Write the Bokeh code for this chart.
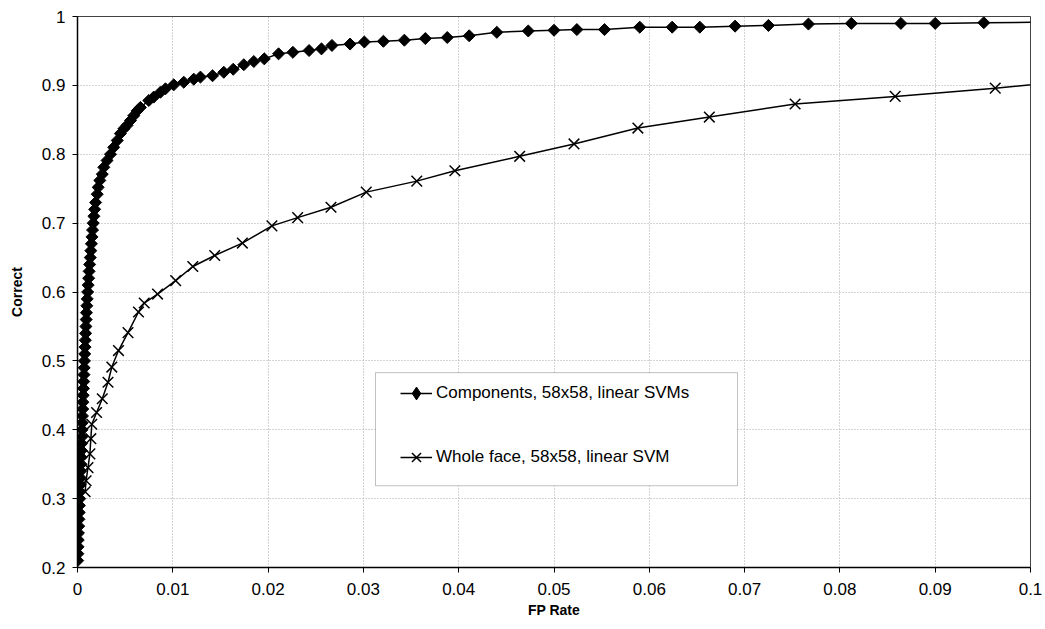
import numpy as np
from bokeh.plotting import figure
from bokeh.models import (Range1d, FixedTicker, Legend, LegendItem, BoxAnnotation,
                          ColumnDataSource)
from bokeh.embed import file_html
from bokeh.resources import INLINE

# ---------------- data ----------------
comp_x = [0.00002, 0.00004, 0.00006, 0.00008, 0.0001, 0.00013, 0.00015, 0.00018, 0.0002, 0.00023,
          0.00026, 0.00028, 0.00031, 0.00033, 0.00036, 0.00038, 0.00041, 0.00043, 0.00046, 0.00048,
          0.0005, 0.00052, 0.00055, 0.00057, 0.0006, 0.00062, 0.00065, 0.00068, 0.0007, 0.00073,
          0.00076, 0.00079, 0.00082, 0.00085, 0.00088, 0.00091, 0.00094, 0.00098, 0.00102, 0.00107,
          0.00112, 0.00117, 0.00122, 0.00128, 0.00134, 0.0014, 0.00146, 0.00152, 0.00158, 0.00165,
          0.00172, 0.0018, 0.0019, 0.00207, 0.00217, 0.00234, 0.0026, 0.00276, 0.0031, 0.00346,
          0.0038, 0.00417, 0.0045, 0.00486, 0.0052, 0.00556, 0.0059, 0.00626, 0.0066, 0.00748,
          0.0080, 0.0087, 0.00923, 0.0101, 0.01115, 0.0122, 0.0129, 0.01417, 0.01535, 0.01634,
          0.01745, 0.0185, 0.0196, 0.0211, 0.0226, 0.0243, 0.0256, 0.0267, 0.0286, 0.0301,
          0.0321, 0.0343, 0.0365, 0.0388, 0.0411, 0.0440, 0.0473, 0.0500, 0.0524, 0.0553,
          0.0590, 0.0624, 0.0653, 0.0690, 0.0725, 0.0767, 0.0812, 0.0864, 0.0900, 0.0951,
          0.1045]
comp_y = [0.21, 0.22, 0.23, 0.24, 0.25, 0.26, 0.27, 0.28, 0.29, 0.30,
          0.31, 0.32, 0.33, 0.34, 0.35, 0.36, 0.37, 0.38, 0.39, 0.40,
          0.41, 0.42, 0.43, 0.44, 0.45, 0.46, 0.47, 0.48, 0.49, 0.50,
          0.51, 0.52, 0.53, 0.54, 0.55, 0.56, 0.57, 0.58, 0.59, 0.60,
          0.61, 0.62, 0.63, 0.64, 0.65, 0.66, 0.67, 0.68, 0.69, 0.70,
          0.71, 0.72, 0.73, 0.742, 0.752, 0.762, 0.771, 0.781, 0.791, 0.800,
          0.810, 0.820, 0.830, 0.837, 0.842, 0.849, 0.856, 0.863, 0.868, 0.878,
          0.883, 0.890, 0.895, 0.9008, 0.9046, 0.909, 0.912, 0.914, 0.919, 0.9234,
          0.930, 0.9346, 0.9385, 0.9458, 0.948, 0.9506, 0.953, 0.958, 0.960, 0.963,
          0.964, 0.9656, 0.968, 0.9695, 0.972, 0.977, 0.979, 0.980, 0.981, 0.981,
          0.9845, 0.9845, 0.9845, 0.986, 0.987, 0.989, 0.990, 0.990, 0.990, 0.991,
          0.992]

whole_x = [0.0008, 0.0009, 0.0011, 0.0013, 0.0014, 0.0015, 0.0020, 0.0026, 0.0032, 0.0036,
           0.0043, 0.0053, 0.0064, 0.0070, 0.0084, 0.0103, 0.0121, 0.0144, 0.0173, 0.0204,
           0.0231, 0.0266, 0.0303, 0.0356, 0.0396, 0.0464, 0.0521, 0.0588, 0.0663, 0.0753,
           0.0858, 0.0963, 0.1050]
whole_y = [0.310, 0.326, 0.345, 0.365, 0.387, 0.408, 0.425, 0.445, 0.469, 0.491,
           0.515, 0.541, 0.571, 0.584, 0.597, 0.6165, 0.637, 0.653, 0.671, 0.696,
           0.708, 0.723, 0.745, 0.761, 0.776, 0.797, 0.815, 0.838, 0.854, 0.873,
           0.884, 0.896, 0.907]

series_names = ["Components, 58x58, linear SVMs", "Whole face, 58x58, linear SVM"]
x_ticks = [0, 0.01, 0.02, 0.03, 0.04, 0.05, 0.06, 0.07, 0.08, 0.09, 0.1]
x_tick_labels = ["0", "0.01", "0.02", "0.03", "0.04", "0.05", "0.06", "0.07", "0.08", "0.09", "0.1"]
y_ticks = [0.2, 0.3, 0.4, 0.5, 0.6, 0.7, 0.8, 0.9, 1.0]
y_tick_labels = ["0.2", "0.3", "0.4", "0.5", "0.6", "0.7", "0.8", "0.9", "1"]

FONT = "Liberation Sans"

p = figure(width=1043, height=626, output_backend="svg", toolbar_location=None,
           x_range=Range1d(0, 0.1), y_range=Range1d(0.2, 1.0),
           min_border_left=77, min_border_right=13, min_border_top=16, min_border_bottom=59)
p.background_fill_color = "white"
p.border_fill_color = "white"
p.outline_line_color = "#444444"
p.outline_line_width = 1

for ax in (p.xaxis[0], p.yaxis[0]):
    ax.axis_line_color = "black"
    ax.axis_line_width = 1.5
    ax.major_tick_in = 0
    ax.major_tick_out = 5
    ax.major_tick_line_color = "black"
    ax.minor_tick_line_color = None
    ax.major_label_text_font = FONT
    ax.major_label_text_font_size = "17px"
    ax.major_label_text_color = "black"
    ax.axis_label_text_font = FONT
    ax.axis_label_text_font_style = "bold"
    ax.axis_label_text_font_size = "14px"
    ax.axis_label_text_color = "black"

p.xaxis[0].ticker = FixedTicker(ticks=x_ticks)
p.xaxis[0].major_label_overrides = {t: l for t, l in zip(x_ticks, x_tick_labels)}
p.yaxis[0].ticker = FixedTicker(ticks=y_ticks)
p.yaxis[0].major_label_overrides = {t: l for t, l in zip(y_ticks, y_tick_labels)}
p.xaxis[0].major_label_standoff = 10
p.yaxis[0].major_label_standoff = 7
p.xaxis[0].axis_label = "FP Rate"
p.yaxis[0].axis_label = "Correct"
p.xaxis[0].axis_label_standoff = 4
p.yaxis[0].axis_label_standoff = 14

for g in (p.xgrid[0], p.ygrid[0]):
    g.grid_line_color = "#a8a8a8"
    g.grid_line_dash = "1 2"
    g.grid_line_width = 1

src_c = ColumnDataSource(dict(x=comp_x, y=comp_y))
src_w = ColumnDataSource(dict(x=whole_x, y=whole_y))

lc = p.line("x", "y", source=src_c, line_color="black", line_width=1.5)
sc = p.scatter("x", "y", source=src_c, marker="square", angle=np.pi / 4, size=8.5,
               fill_color="black", line_color="black", line_width=1)
# legend-only sample of the diamond marker (hidden in the plot area)
sc_leg = p.scatter("x", "y", source=src_c, marker="diamond", size=15,
                   fill_color="black", line_color="black", line_width=1, visible=False)
lw = p.line("x", "y", source=src_w, line_color="black", line_width=1.5)
sw = p.scatter("x", "y", source=src_w, marker="x", size=15,
               line_color="black", line_width=1.5)

box = BoxAnnotation(left=0.03127, right=0.06926, top=0.4829, bottom=0.3187,
                    fill_color="white", fill_alpha=1.0, line_color="#333333", line_width=1,
                    level="annotation")
p.add_layout(box)

legend = Legend(items=[LegendItem(label=series_names[0], renderers=[lc, sc_leg]),
                       LegendItem(label=series_names[1], renderers=[lw, sw])],
                location=(323, 94), padding=0, margin=0, spacing=32,
                glyph_width=32, glyph_height=32, label_height=32, label_standoff=4,
                label_text_font=FONT, label_text_font_size="17px", label_text_color="black",
                border_line_alpha=0, background_fill_alpha=0, click_policy="none")
p.add_layout(legend)

open("out.html", "w").write(file_html(p, INLINE))
